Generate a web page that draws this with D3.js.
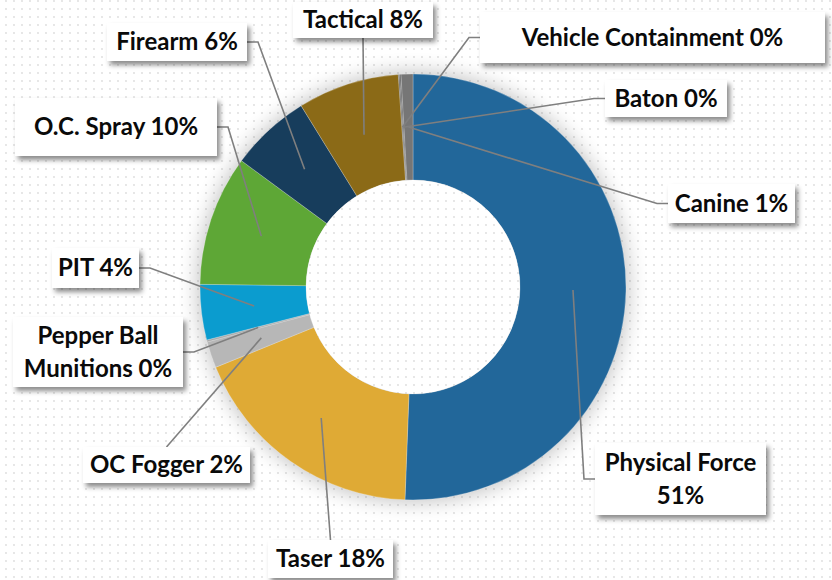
<!DOCTYPE html>
<html>
<head>
<meta charset="utf-8">
<script src="https://cdn.jsdelivr.net/npm/d3@7"></script>
<style>
  html, body { margin: 0; padding: 0; background: #fff; }
  svg { display: block; }
  .lbl { font-family: Lato, "Open Sans", sans-serif; font-weight: 700; font-size: 24px; fill: #0a0a0a; }
</style>
</head>
<body>
<div id="chart"></div>
<script>
// ---- data (percent of uses of force) ----
const categories = ["Physical Force", "Taser", "OC Fogger", "Pepper Ball Munitions", "PIT",
  "O.C. Spray", "Firearm", "Tactical", "Vehicle Containment", "Baton", "Canine"];
const values = [50.6, 18.25, 2.0, 0.15, 4.2, 9.9, 6.1, 7.7, 0.1, 0.1, 0.9];
const labelText = [["Physical Force", "51%"], ["Taser 18%"], ["OC Fogger 2%"], ["Pepper Ball", "Munitions 0%"],
  ["PIT 4%"], ["O.C. Spray 10%"], ["Firearm 6%"], ["Tactical 8%"], ["Vehicle Containment 0%"], ["Baton 0%"], ["Canine 1%"]];
const colors = ["#22679a", "#dfaa35", "#b7b7b7", "#a9a9a9", "#0b9ccf", "#5ea736",
  "#173d5c", "#8b6a17", "#5e5e5e", "#555555", "#767676"];

// label callout boxes (same order as categories), side = where the leader attaches
const boxes = [
  { x: 595, y: 443, w: 171, h: 72, side: "left" },
  { x: 268, y: 540, w: 125, h: 38, side: "top" },
  { x: 83,  y: 447, w: 167, h: 36, side: "top" },
  { x: 13,  y: 317, w: 170, h: 70, side: "right" },
  { x: 52,  y: 248, w: 87,  h: 40, side: "right" },
  { x: 15,  y: 98,  w: 202, h: 58, side: "right" },
  { x: 107, y: 23,  w: 140, h: 38, side: "right" },
  { x: 293, y: 2,   w: 140, h: 36, side: "bottom" },
  { x: 480, y: 12,  w: 345, h: 51, side: "left" },
  { x: 605, y: 80,  w: 122, h: 37, side: "left" },
  { x: 668, y: 184, w: 127, h: 39, side: "left" }
];

const W = 832, H = 580;
const cx = 413, cy = 287, R0 = 107, R1 = 213;

const svg = d3.select("#chart").append("svg").attr("width", W).attr("height", H);
const defs = svg.append("defs");

const pat = defs.append("pattern").attr("id", "dots")
  .attr("width", 8).attr("height", 8).attr("patternUnits", "userSpaceOnUse");
pat.append("rect").attr("width", 8).attr("height", 8).attr("fill", "#fff");
pat.append("circle").attr("cx", 6).attr("cy", 1).attr("r", 0.9).attr("fill", "#dcdcdc");

defs.append("filter").attr("id", "blur").attr("x", "-30%").attr("y", "-30%")
  .attr("width", "160%").attr("height", "160%")
  .append("feGaussianBlur").attr("stdDeviation", 10);

defs.append("filter").attr("id", "boxShadow").attr("x", "-20%").attr("y", "-30%")
  .attr("width", "140%").attr("height", "170%")
  .append("feDropShadow").attr("dx", 3).attr("dy", 4).attr("stdDeviation", 2.5)
  .attr("flood-color", "#000").attr("flood-opacity", 0.45);

svg.append("rect").attr("width", W).attr("height", H).attr("fill", "url(#dots)");

const g = svg.append("g").attr("transform", `translate(${cx},${cy})`);

// soft glow round the ring
g.append("circle").attr("r", R1 + 2).attr("fill", "#000").attr("opacity", 0.24)
  .attr("filter", "url(#blur)");

const pie = d3.pie().sort(null).value(d => d);
const arc = d3.arc().innerRadius(R0).outerRadius(R1);
const arcs = pie(values);

g.selectAll("path.slice")
  .data(arcs)
  .join("path")
  .attr("class", "slice")
  .attr("d", arc)
  .attr("fill", (d, i) => colors[i])
  .attr("stroke", "rgba(255,255,255,0.4)")
  .attr("stroke-width", 0.6);

// hole shows the page background again
g.append("circle").attr("r", R0).attr("fill", "url(#dots)")
  .attr("transform", `translate(${-cx},${-cy})`)
  .attr("cx", cx).attr("cy", cy);

// ---- leader lines ----
const leaders = svg.append("g");
arcs.forEach((d, i) => {
  const b = boxes[i];
  const c = arc.centroid(d);
  const tx = cx + c[0], ty = cy + c[1];
  let pts;
  if (b.side === "left") {
    const y = b.y + b.h / 2;
    pts = [[b.x, y], [b.x - 11, y], [tx, ty]];
  } else if (b.side === "right") {
    const y = b.y + b.h / 2;
    pts = [[b.x + b.w, y], [b.x + b.w + 11, y], [tx, ty]];
  } else if (b.side === "top") {
    pts = [[b.x + b.w / 2, b.y], [tx, ty]];
  } else {
    pts = [[b.x + b.w / 2, b.y + b.h], [tx, ty]];
  }
  leaders.append("path")
    .attr("d", d3.line()(pts))
    .attr("fill", "none")
    .attr("stroke", "#7f7f7f")
    .attr("stroke-width", 1.6);
});

// ---- callout boxes ----
const lab = svg.append("g").selectAll("g.lab")
  .data(categories)
  .join("g")
  .attr("class", "lab");

lab.append("rect")
  .attr("x", (d, i) => boxes[i].x)
  .attr("y", (d, i) => boxes[i].y)
  .attr("width", (d, i) => boxes[i].w)
  .attr("height", (d, i) => boxes[i].h)
  .attr("fill", "#fff")
  .attr("filter", "url(#boxShadow)");

const LH = 33;
lab.each(function (d, i) {
  const b = boxes[i];
  const lines = labelText[i];
  const y0 = b.y + b.h / 2 - (lines.length - 1) * LH / 2;
  const t = d3.select(this).append("text")
    .attr("class", "lbl")
    .attr("text-anchor", "middle");
  lines.forEach((s, k) => {
    t.append("tspan")
      .attr("x", b.x + b.w / 2)
      .attr("y", y0 + k * LH)
      .attr("dy", "0.35em")
      .text(s);
  });
});
</script>
</body>
</html>
